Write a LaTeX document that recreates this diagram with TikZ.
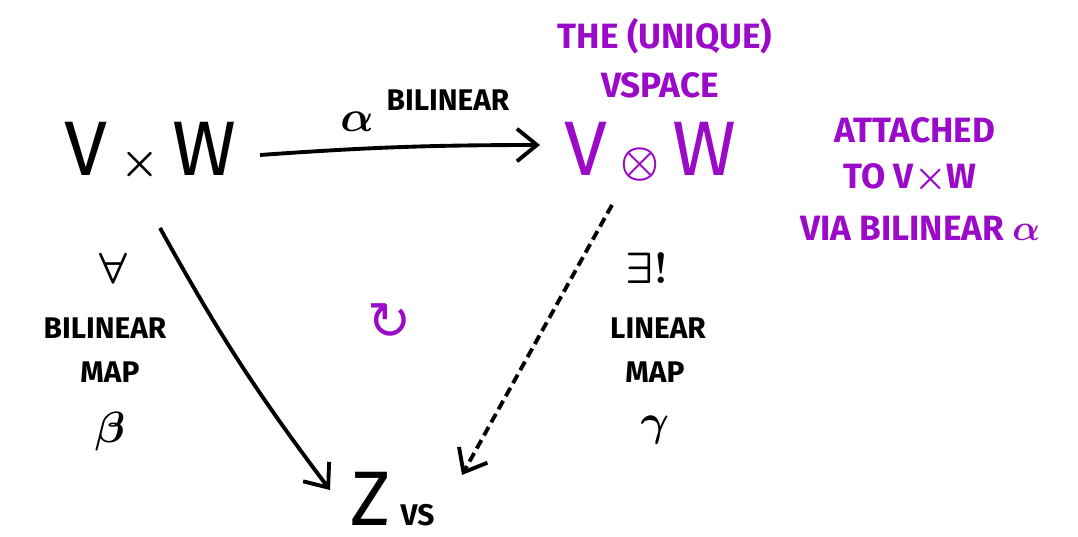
\documentclass[tikz,border=0pt]{standalone}
\usepackage{fontspec}
\setmainfont{Fira Sans}
\usepackage{amsmath, amssymb, bm}
\usetikzlibrary{arrows.meta, positioning, calc}
\usepackage{xcolor}
\definecolor{hand}{RGB}{155,10,200}

\tikzset{
    big/.style={font=\fontsize{44}{48}\selectfont\boldmath, inner sep=1pt},
    note/.style={font=\fontsize{17}{20}\selectfont\bfseries\boldmath, inner sep=1pt},
    sym/.style={font=\fontsize{32}{34}\selectfont\boldmath, inner sep=1pt},
    purplenote/.style={font=\fontsize{20}{24}\selectfont\bfseries\boldmath, text=hand, inner sep=1pt},
    map/.style={line width=2.2pt, -{Straight Barb[length=4mm, width=6.5mm, line width=2.2pt]}}
}

\begin{document}
\begin{tikzpicture}
    \useasboundingbox (0, 0) rectangle (21.56, 10.74);

    % Spaces
    \node[big] (VW) at (3.0, 7.7) {V\,$\times$\,W};
    \node[big, text=hand] (VtW) at (13.0, 7.7) {V\,$\otimes$\,W};
    \node[big] (Z) at (7.42, 0.76) {Z};
    \node[note, anchor=base west] (vs) at ([xshift=3pt]Z.base east) {VS};

    % Alpha label
    \node[sym] (alpha) at (7.14, 8.3) {$\alpha$};
    \node[note] (bilin) at (8.96, 8.74) {BILINEAR};

    % Tensor product notes
    \node[purplenote] (the) at (13.3, 10.02) {THE (UNIQUE)};
    \node[purplenote] (vspace) at (13.2, 9.04) {VSPACE};
    \node[purplenote] (att) at (18.3, 8.14) {ATTACHED};
    \node[purplenote] (to) at (18.2, 7.18) {TO V$\times$W};
    \node[purplenote] (via) at (18.4, 6.18) {VIA BILINEAR $\alpha$};

    % Left labels
    \node[sym] (all) at (2.26, 5.38) {$\forall$};
    \node[note] (bl) at (2.1, 4.18) {BILINEAR};
    \node[note] (mapl) at (2.2, 3.3) {MAP};
    \node[sym] (beta) at (2.2, 2.1) {$\beta$};

    % Right labels
    \node[sym] (ex) at (12.94, 5.38) {$\exists!$};
    \node[note] (lin) at (13.16, 4.18) {LINEAR};
    \node[note] (mapr) at (13.1, 3.3) {MAP};
    \node[sym] (gamma) at (13.1, 2.14) {$\gamma$};

    % Commutes
    \node[font=\fontsize{30}{32}\selectfont\fontspec{DejaVu Sans}, text=hand] (comm) at (7.8, 4.3) {↻};

    % Arrows
    \draw[map] ($(VW)+(2.2,-0.06)$) to[bend left=2] ($(VtW)+(-2.2,0.14)$);
    \draw[map] ($(VW)+(0.2,-1.52)$) to[bend right=4] ($(Z)+(-0.82,0.18)$);
    \draw[map, dash pattern=on 5.5pt off 3pt] ($(VtW)+(-0.76,-1.06)$) -- ($(Z)+(1.82,0.48)$);

\end{tikzpicture}
\end{document}
